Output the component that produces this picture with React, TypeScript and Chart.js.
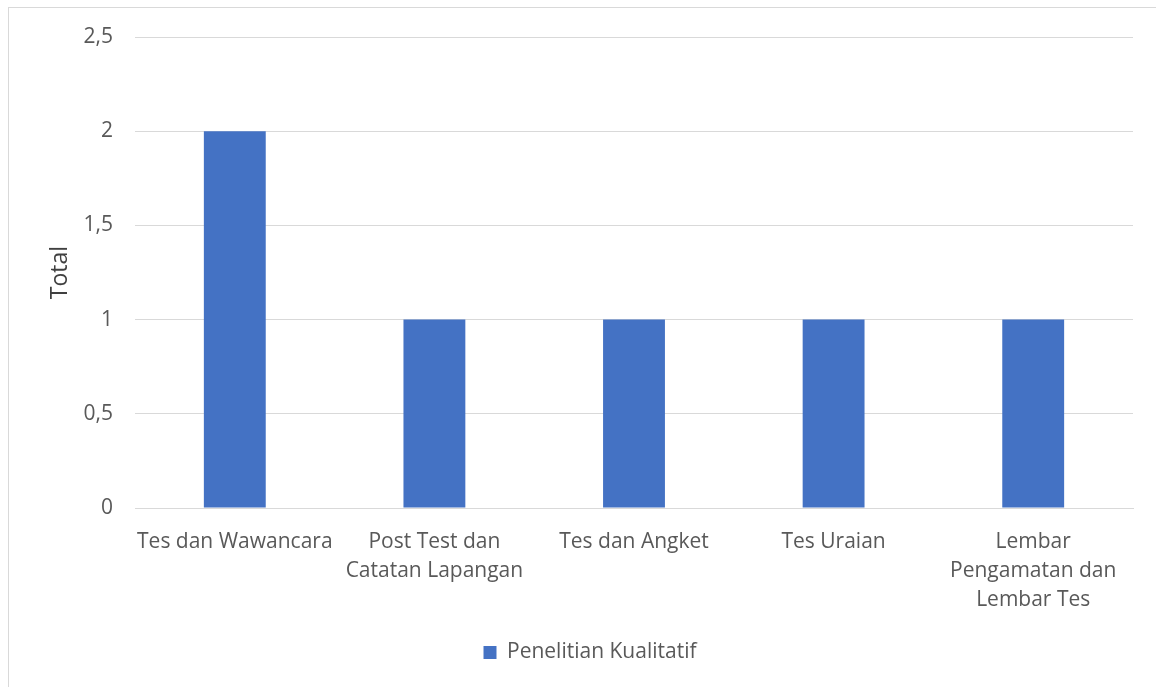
import React, { useEffect, useRef } from "react";
import { Chart, registerables } from "chart.js";

Chart.register(...registerables);

const categories: (string | string[])[] = [
  "Tes dan Wawancara",
  ["Post Test dan", "Catatan Lapangan"],
  "Tes dan Angket",
  "Tes Uraian",
  ["Lembar", "Pengamatan dan", "Lembar Tes"],
];
const seriesName = "Penelitian Kualitatif";
const seriesValues = [2, 1, 1, 1, 1];
const yTicks = [0, 0.5, 1, 1.5, 2, 2.5];
const yTitle = "Total";

const FONT = "'Open Sans', sans-serif";
const TEXT = "#595959";
const GRID = "#d9d9d9";
const BAR = "#4472C4";

export default function App() {
  const ref = useRef<HTMLCanvasElement | null>(null);
  useEffect(() => {
    if (!ref.current) return;
    const chart = new Chart(ref.current, {
      type: "bar",
      data: {
        labels: categories,
        datasets: [
          {
            label: seriesName,
            data: seriesValues,
            backgroundColor: BAR,
            borderWidth: 0,
            barPercentage: 0.31,
            categoryPercentage: 1,
          },
        ],
      },
      options: {
        animation: false,
        responsive: false,
        maintainAspectRatio: false,
        layout: { padding: { top: 10, left: 38, right: 38, bottom: 25 } },
        plugins: {
          tooltip: { enabled: false },
          legend: {
            position: "bottom",
            labels: {
              color: TEXT,
              font: { family: FONT, size: 21 },
              boxWidth: 13,
              boxHeight: 13,
              padding: 8,
            },
          },
        },
        scales: {
          x: {
            grid: { display: false, drawTicks: false },
            border: { display: true, color: GRID, width: 1 },
            ticks: {
              color: TEXT,
              font: { family: FONT, size: 21, lineHeight: 1.38 },
              padding: 20,
              maxRotation: 0,
              autoSkip: false,
            },
            afterFit: (scale: any) => {
              scale.height = 126;
            },
          },
          y: {
            min: 0,
            max: 2.5,
            afterBuildTicks: (scale: any) => {
              scale.ticks = yTicks.map((v) => ({ value: v }));
            },
            grid: { color: GRID, lineWidth: 1, drawTicks: false },
            border: { display: false },
            ticks: {
              color: TEXT,
              font: { family: FONT, size: 21 },
              padding: 22,
              callback: (v: any) => String(v).replace(".", ","),
            },
            title: {
              display: true,
              text: yTitle,
              color: "#404040",
              font: { family: FONT, size: 23 },
              padding: 0,
            },
            afterFit: (scale: any) => {
              scale.width = 88;
              scale.paddingTop = 29;
              scale.paddingBottom = 10;
            },
          },
        },
      },
    });
    return () => chart.destroy();
  }, []);

  return (
    <div
      style={{
        position: "fixed",
        left: 0,
        top: 0,
        width: 1156,
        height: 687,
        overflow: "hidden",
        background: "#fff",
      }}
    >
      <div
        style={{
          position: "absolute",
          left: 8,
          top: 7,
          width: 1162,
          height: 690,
          border: "1px solid #d9d9d9",
          background: "#fff",
        }}
      >
        <canvas ref={ref} width={1162} height={690} style={{ display: "block" }} />
      </div>
    </div>
  );
}
